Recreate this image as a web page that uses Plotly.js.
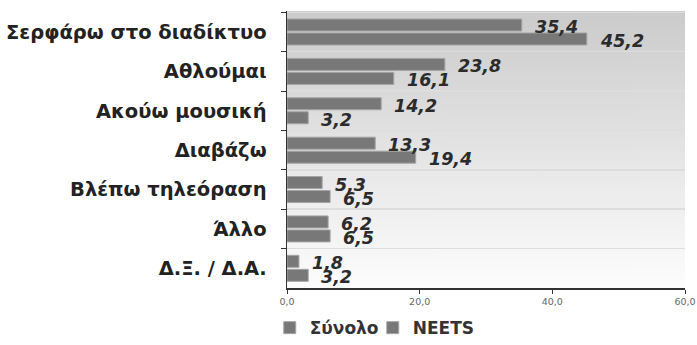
<!DOCTYPE html>
<html><head><meta charset="utf-8">
<script src="https://cdn.plot.ly/plotly-3.0.1.min.js"></script>
<style>html,body{margin:0;padding:0;background:#fff}#chart{width:697px;height:345px}</style>
</head><body><div id="chart"></div>
<script>
const categories = ['Σερφάρω στο διαδίκτυο','Αθλούμαι','Ακούω μουσική','Διαβάζω','Βλέπω τηλεόραση','Άλλο','Δ.Ξ. / Δ.Α.'];
const totalValues = [35.4, 23.8, 14.2, 13.3, 5.3, 6.2, 1.8];
const neetsValues = [45.2, 16.1, 3.2, 19.4, 6.5, 6.5, 3.2];
const seriesNames = ['Σύνολο', 'NEETS'];
const xTickValues = [0, 20, 40, 60];
const xTickLabels = ['0,0', '20,0', '40,0', '60,0'];

const fmt = v => v.toFixed(1).replace('.', ',');

// gradient background for plot area
const cv = document.createElement('canvas');
cv.width = 4; cv.height = 256;
const ctx = cv.getContext('2d');
const g = ctx.createLinearGradient(0, 0, 0, 256);
g.addColorStop(0, '#cbcbcb');
g.addColorStop(1, '#fdfdfd');
ctx.fillStyle = g; ctx.fillRect(0, 0, 4, 256);
const bgUrl = cv.toDataURL('image/png');

const barStyle = {color: '#787878', line: {color: '#a5a5a5', width: 1}};
const traces = [
  {type: 'bar', orientation: 'h', name: seriesNames[0], y: categories, x: totalValues, marker: barStyle, hoverinfo: 'none'},
  {type: 'bar', orientation: 'h', name: seriesNames[1], y: categories, x: neetsValues, marker: barStyle, hoverinfo: 'none'}
];

const labelFont = {family: 'DejaVu Sans', size: 17.5, color: '#2b2b2b', weight: 700, style: 'italic'};
const annotations = [];
categories.forEach((c, i) => {
  annotations.push({x: totalValues[i], y: c, text: fmt(totalValues[i]), xanchor: 'left', yanchor: 'middle', xshift: 11, yshift: 5, showarrow: false, font: labelFont});
  annotations.push({x: neetsValues[i], y: c, text: fmt(neetsValues[i]), xanchor: 'left', yanchor: 'middle', xshift: 11, yshift: -9, showarrow: false, font: labelFont});
});

const layout = {
  width: 697, height: 345,
  margin: {l: 287, r: 12, t: 11, b: 57},
  paper_bgcolor: '#ffffff',
  plot_bgcolor: 'rgba(0,0,0,0)',
  barmode: 'group',
  bargap: 0.29,
  bargroupgap: 0.14,
  showlegend: true,
  legend: {orientation: 'h', xref: 'container', x: 0.387, xanchor: 'left', yref: 'container', y: 0.049, yanchor: 'middle',
    font: {family: 'DejaVu Sans', size: 17, color: '#333', weight: 700}, itemwidth: 30, entrywidth: 58, traceorder: 'normal'},
  images: [{source: bgUrl, xref: 'paper', yref: 'paper', x: 0, y: 1, sizex: 1, sizey: 1, sizing: 'stretch', xanchor: 'left', yanchor: 'top', layer: 'below'}],
  xaxis: {range: [0, 60], tickvals: xTickValues, ticktext: xTickLabels, ticks: 'outside', ticklen: 4, tickcolor: '#333',
    showline: true, linecolor: '#333', linewidth: 1.5, showgrid: false, zeroline: false,
    tickfont: {family: 'DejaVu Sans', size: 9.5, color: '#666'}},
  yaxis: {type: 'category', autorange: 'reversed', tickson: 'boundaries', ticks: 'outside', ticklen: 5, tickcolor: '#333',
    showline: true, linecolor: '#333', linewidth: 1.5, showgrid: true, gridcolor: '#dddddd', gridwidth: 1.5,
    ticklabelstandoff: 15,
    tickfont: {family: 'DejaVu Sans', size: 19.5, color: '#222', weight: 700}},
  annotations: annotations
};

Plotly.newPlot('chart', traces, layout, {displayModeBar: false, staticPlot: true});
</script>
</body></html>
